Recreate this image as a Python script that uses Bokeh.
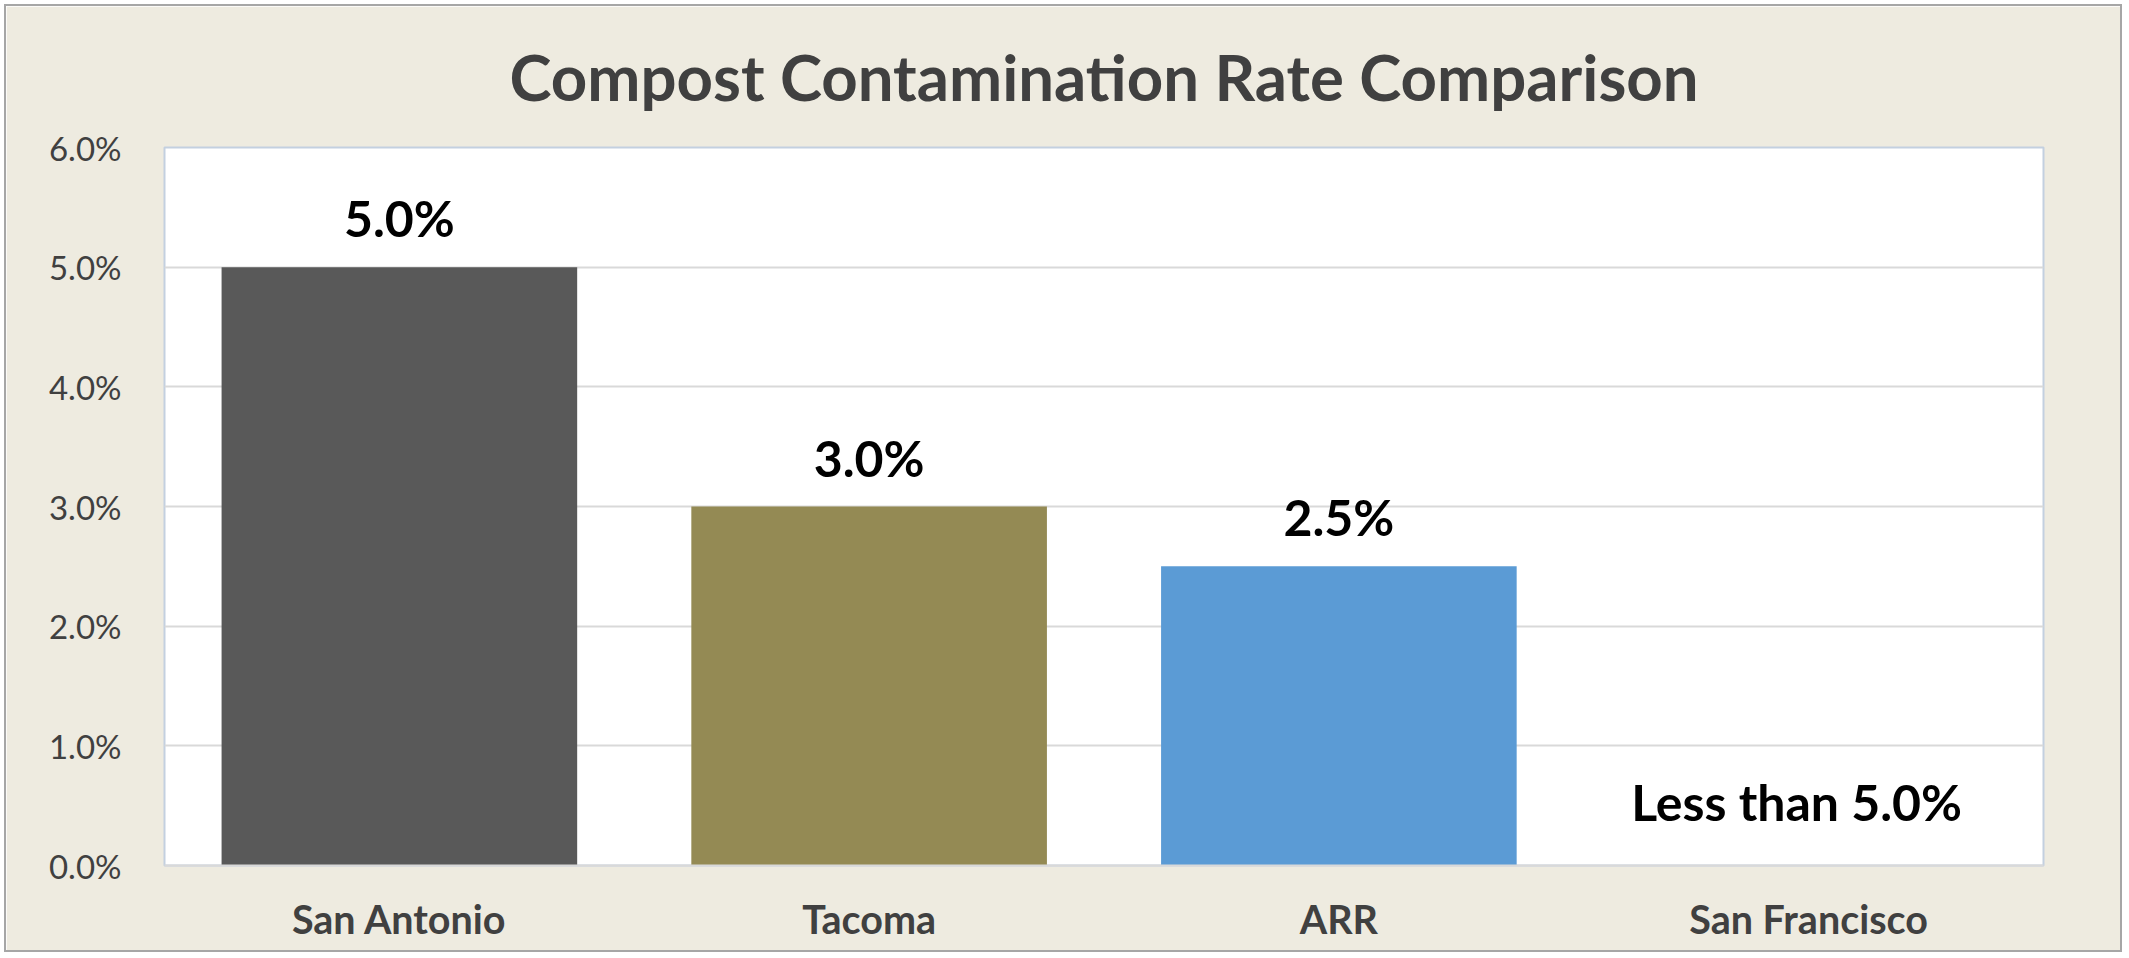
from bokeh.plotting import figure
from bokeh.models import Range1d, FactorRange, FixedTicker, PrintfTickFormatter, ColumnDataSource
from bokeh.core.properties import value
from bokeh.embed import file_html
from bokeh.resources import INLINE

# ---- data ----
categories = ["San Antonio", "Tacoma", "ARR", "San Francisco"]
rates = [5.0, 3.0, 2.5, 0.0]
bar_colors = ["#595959", "#948A54", "#5B9BD5", "#FFFFFF"]
bar_labels = ["5.0%", "3.0%", "2.5%", ""]
sf_label = "Less than 5.0%"
y_ticks = [0, 1, 2, 3, 4, 5, 6]
title_text = "Compost Contamination Rate Comparison"

FONT = "Lato"
BG = "#EEEBE0"

p = figure(
    width=2118, height=948,
    x_range=FactorRange(*categories, range_padding=0),
    y_range=Range1d(0, 6),
    output_backend="svg", toolbar_location=None,
    min_border_left=158, min_border_right=81, min_border_top=141, min_border_bottom=89,
)
p.styles = {"border": "2px solid #A6A6A6", "margin": "4px 0 0 4px"}
p.border_fill_color = BG
p.background_fill_color = "#FFFFFF"
p.outline_line_color = "#C3D0E0"
p.outline_line_width = 2

p.title.text = title_text
p.title.align = "center"
p.title.vertical_align = "top"
p.title.text_font = FONT
p.title.text_font_size = "63.5px"
p.title.text_font_style = "bold"
p.title.text_color = "#404040"
p.title.standoff = 61

src = ColumnDataSource(dict(cat=categories, rate=rates, color=bar_colors, lab=bar_labels))
p.vbar(x="cat", top="rate", width=0.757, fill_color="color", line_color=None, source=src)

p.text(x="cat", y="rate", text="lab", source=src, text_align="center", text_baseline="middle",
       y_offset=-49, text_font=value(FONT), text_font_size="50px", text_font_style="bold",
       text_color="#000000")
p.text(x=[categories[3]], y=[rates[3]], text=[sf_label], text_align="center", text_baseline="middle",
       x_offset=-12, y_offset=-64, text_font=value(FONT), text_font_size="50px",
       text_font_style="bold", text_color="#000000")

p.xgrid.grid_line_color = None
p.ygrid.grid_line_color = "#D9D9D9"
p.ygrid.grid_line_width = 2
p.yaxis.ticker = FixedTicker(ticks=y_ticks)
p.yaxis.formatter = PrintfTickFormatter(format="%.1f%%")
p.yaxis.axis_line_color = None
p.yaxis.major_tick_line_color = None
p.yaxis.minor_tick_line_color = None
p.yaxis.major_label_standoff = 37
p.yaxis.major_label_text_font = FONT
p.yaxis.major_label_text_font_size = "33px"
p.yaxis.major_label_text_color = "#404040"

p.xaxis.axis_line_color = "#D9D9D9"
p.xaxis.axis_line_width = 2
p.xaxis.major_tick_line_color = None
p.xaxis.minor_tick_line_color = None
p.xaxis.major_label_standoff = 23
p.xaxis.major_label_text_font = FONT
p.xaxis.major_label_text_font_size = "39.5px"
p.xaxis.major_label_text_font_style = "bold"
p.xaxis.major_label_text_color = "#404040"

open("out.html", "w").write(file_html(p, INLINE))
